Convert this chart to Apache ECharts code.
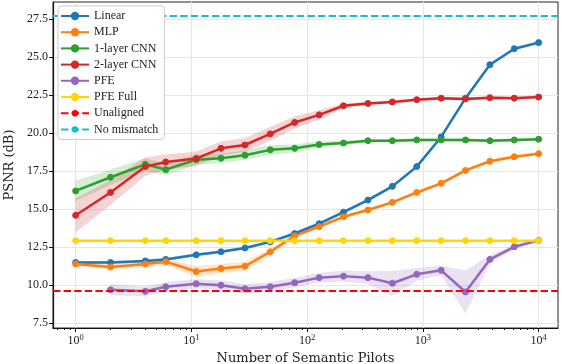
<!DOCTYPE html>
<html>
<head>
<meta charset="utf-8">
<script src="https://cdn.jsdelivr.net/npm/echarts@6/dist/echarts.min.js"></script>
<style>
html, body { margin: 0; padding: 0; background: #fff; }
#chart { width: 562px; height: 364px; }
</style>
</head>
<body>
<div id="chart"></div>
<script>
// number of semantic pilots (x, log scale)
const pilots = [1, 2, 4, 6, 11, 18, 29, 48, 78, 127, 206, 335, 545, 885, 1438, 2335, 3792, 6158, 10000];
const pfePilots = pilots.slice(1);

const linear = [11.5, 11.5, 11.6, 11.7, 12.0, 12.2, 12.45, 12.85, 13.4, 14.05, 14.8, 15.6, 16.5, 17.8, 19.75, 22.3, 24.5, 25.55, 25.95];
const linearSpread = [0.1, 0.1, 0.1, 0.1, 0.1, 0.1, 0.1, 0.1, 0.1, 0.1, 0.1, 0.1, 0.1, 0.1, 0.1, 0.1, 0.1, 0.1, 0.1];
const mlp = [11.4, 11.2, 11.4, 11.55, 10.9, 11.1, 11.25, 12.2, 13.25, 13.85, 14.5, 14.95, 15.45, 16.1, 16.7, 17.55, 18.15, 18.45, 18.65];
const mlpSpread = [0.15, 0.15, 0.2, 0.2, 0.35, 0.3, 0.3, 0.2, 0.15, 0.15, 0.1, 0.1, 0.1, 0.1, 0.1, 0.1, 0.1, 0.1, 0.1];
const cnn1 = [16.2, 17.1, 17.95, 17.6, 18.25, 18.35, 18.55, 18.9, 19.0, 19.25, 19.35, 19.5, 19.5, 19.55, 19.55, 19.55, 19.5, 19.55, 19.6];
const cnn1Spread = [0.65, 0.5, 0.4, 0.35, 0.35, 0.3, 0.3, 0.3, 0.25, 0.2, 0.15, 0.1, 0.1, 0.1, 0.1, 0.1, 0.1, 0.1, 0.1];
const cnn2 = [14.6, 16.1, 17.8, 18.1, 18.33, 19.0, 19.22, 19.95, 20.7, 21.2, 21.8, 21.95, 22.05, 22.2, 22.3, 22.25, 22.33, 22.3, 22.37];
const cnn2Spread = [1.1, 0.8, 0.6, 0.5, 0.45, 0.45, 0.45, 0.45, 0.4, 0.3, 0.15, 0.1, 0.1, 0.1, 0.1, 0.1, 0.1, 0.1, 0.1];
const pfe = [9.7, 9.6, 9.9, 10.1, 10.0, 9.77, 9.9, 10.17, 10.5, 10.6, 10.5, 10.13, 10.72, 10.98, 9.56, 11.7, 12.53, 12.95];
const pfeSpread = [0.35, 0.3, 0.3, 0.3, 0.3, 0.3, 0.3, 0.3, 0.3, 0.35, 0.4, 0.8, 0.4, 0.3, 1.4, 0.25, 0.15, 0.1];
const pfeFull = [12.93, 12.93, 12.93, 12.93, 12.93, 12.93, 12.93, 12.93, 12.93, 12.93, 12.93, 12.93, 12.93, 12.93, 12.93, 12.93, 12.93, 12.93, 12.93];
const unaligned = 9.62;
const noMismatch = 27.72;

const yTicks = [7.5, 10.0, 12.5, 15.0, 17.5, 20.0, 22.5, 25.0, 27.5];
const xTicks = [1, 10, 100, 1000, 10000];
const xMinorTicks = [0.7, 0.8, 0.9, 2, 3, 4, 5, 6, 7, 8, 9, 20, 30, 40, 50, 60, 70, 80, 90,
  200, 300, 400, 500, 600, 700, 800, 900, 2000, 3000, 4000, 5000, 6000, 7000, 8000, 9000];

const FONT = 'Liberation Serif';
const xMin = 0.637, xMax = 14700, yMin = 7.19, yMax = 28.62;

const chart = echarts.init(document.getElementById('chart'));

function curve(name, xs, ys, color) {
  return {
    name: name,
    type: 'line',
    data: xs.map((x, i) => [x, ys[i]]),
    symbol: 'circle',
    symbolSize: 6,
    z: 4,
    lineStyle: { color: color, width: 2.5 },
    itemStyle: { color: color, borderColor: color, borderWidth: 1 },
    emphasis: { disabled: true },
    animation: false
  };
}

// shaded spread around a curve, drawn as one polygon through the axis scales
function band(xs, ys, spread, color) {
  const rows = xs.map((x, i) => [x, ys[i] - spread[i], ys[i] + spread[i]]);
  return {
    type: 'custom',
    silent: true,
    z: 1,
    animation: false,
    data: rows,
    encode: { x: 0, y: [1, 2] },
    renderItem: function (params, api) {
      if (params.dataIndex !== 0) return null;
      const upper = rows.map(r => api.coord([r[0], r[2]]));
      const lower = rows.map(r => api.coord([r[0], r[1]])).reverse();
      return {
        type: 'polygon',
        shape: { points: upper.concat(lower) },
        style: { fill: color, opacity: 0.2, stroke: color, lineWidth: 0.8, strokeOpacity: 0.25 }
      };
    }
  };
}

function refLine(name, y, color) {
  return {
    name: name,
    type: 'line',
    data: [],
    symbol: 'none',
    lineStyle: { color: color, width: 2, type: [7.4, 3.2] },
    itemStyle: { color: color },
    markLine: {
      silent: true,
      symbol: 'none',
      label: { show: false },
      lineStyle: { color: color, width: 2, type: [7.4, 3.2] },
      data: [{ yAxis: y }]
    },
    z: 3,
    animation: false
  };
}

const series = [
  band(pilots, linear, linearSpread, '#1f77b4'),
  band(pilots, mlp, mlpSpread, '#ff7f0e'),
  band(pilots, cnn1, cnn1Spread, '#2ca02c'),
  band(pilots, cnn2, cnn2Spread, '#d62728'),
  band(pfePilots, pfe, pfeSpread, '#9467bd'),
  curve('Linear', pilots, linear, '#1f77b4'),
  curve('MLP', pilots, mlp, '#ff7f0e'),
  curve('1-layer CNN', pilots, cnn1, '#2ca02c'),
  curve('2-layer CNN', pilots, cnn2, '#d62728'),
  curve('PFE', pfePilots, pfe, '#9467bd'),
  curve('PFE Full', pilots, pfeFull, '#ffd700'),
  refLine('Unaligned', unaligned, '#ff0000'),
  refLine('No mismatch', noMismatch, '#17becf')
];

chart.setOption({
  backgroundColor: '#fff',
  animation: false,
  grid: {
    left: 53, right: 4, top: 2, bottom: 36,
    outerBoundsMode: 'none', containLabel: false,
    show: true, borderColor: '#222', borderWidth: 1
  },
  legend: {
    data: ['Linear', 'MLP', '1-layer CNN', '2-layer CNN', 'PFE', 'PFE Full', 'Unaligned', 'No mismatch'],
    orient: 'vertical',
    left: 58, top: 6, z: 20,
    itemWidth: 28, itemHeight: 8, itemGap: 4.2,
    padding: [4, 6, 4, 2],
    backgroundColor: '#ffffff',
    borderColor: '#cccccc', borderWidth: 1, borderRadius: 3,
    textStyle: { fontFamily: FONT, fontSize: 12, color: '#222', lineHeight: 12 }
  },
  xAxis: [
    {
      type: 'log', logBase: 10, min: xMin, max: xMax,
      name: 'Number of Semantic Pilots', nameLocation: 'middle', nameGap: 24,
      nameTextStyle: { fontFamily: 'DejaVu Serif', fontSize: 13, color: '#222' },
      axisLine: { lineStyle: { color: '#111', width: 1.2 } },
      axisTick: { customValues: xTicks, length: 4, lineStyle: { color: '#111' } },
      axisLabel: {
        customValues: xTicks, margin: 5, color: '#222', fontFamily: FONT, fontSize: 12,
        formatter: v => '10{sup|' + Math.round(Math.log10(v)) + '}',
        rich: { sup: { fontFamily: FONT, fontSize: 8.5, verticalAlign: 'top', padding: [0, 0, 6, 0], color: '#222' } }
      },
      splitLine: { show: true, lineStyle: { color: '#e6e6e6', width: 1 } }
    },
    {
      type: 'log', logBase: 10, min: xMin, max: xMax, gridIndex: 0, position: 'bottom',
      axisLine: { show: false },
      axisTick: { customValues: xMinorTicks, length: 2, lineStyle: { color: '#111' } },
      axisLabel: { show: false },
      splitLine: { show: false }
    }
  ],
  yAxis: {
    type: 'value', min: yMin, max: yMax,
    name: 'PSNR (dB)', nameLocation: 'middle', nameGap: 36,
    nameTextStyle: { fontFamily: 'DejaVu Serif', fontSize: 13, color: '#222' },
    axisLine: { show: true, lineStyle: { color: '#111', width: 1.2 } },
    axisTick: { show: true, customValues: yTicks, length: 4, lineStyle: { color: '#111' } },
    axisLabel: {
      customValues: yTicks, margin: 5, color: '#222', fontFamily: FONT, fontSize: 12,
      formatter: v => v.toFixed(1)
    },
    splitLine: { show: true, lineStyle: { color: '#e6e6e6', width: 1 } }
  },
  series: series
});
</script>
</body>
</html>
